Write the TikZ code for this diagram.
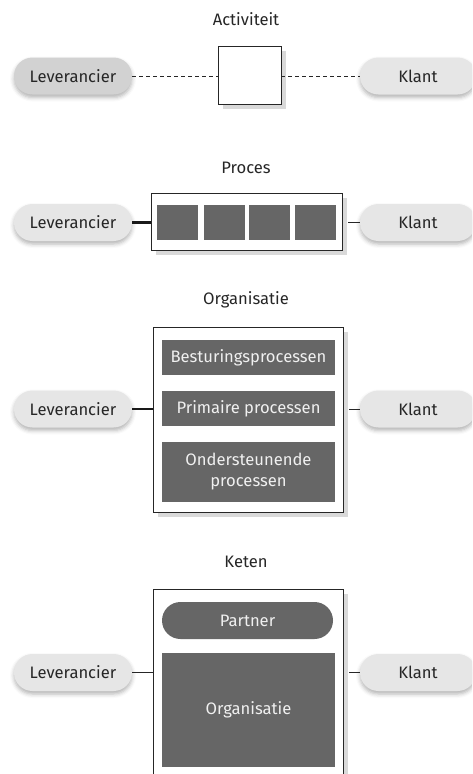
\documentclass[tikz,border=0pt]{standalone}
\usepackage{fontspec}
\setmainfont{Fira Sans}
\usepackage{tikz}
\usetikzlibrary{shadows,shadows.blur}

\definecolor{pillgrey}{HTML}{E6E6E6}
\definecolor{pilldark}{HTML}{D2D2D2}
\definecolor{blockgrey}{HTML}{666666}
\definecolor{shadowgrey}{HTML}{D9D9D9}

\tikzset{
  partij/.style={rectangle, rounded corners=18.5pt, fill=pillgrey, text=black!85,
    minimum width=118pt, minimum height=37pt, inner sep=0pt,
    blur shadow={shadow xshift=0pt, shadow yshift=-3pt, shadow blur radius=4pt, shadow opacity=30}},
  kader/.style={rectangle, draw=black!85, line width=0.8pt, fill=white, inner sep=0pt,
    drop shadow={shadow xshift=5pt, shadow yshift=-5pt, fill=shadowgrey, opacity=1}},
  blok/.style={rectangle, fill=blockgrey, text=white!94!black, inner sep=0pt, align=center},
  titel/.style={text=black!85},
  verbind/.style={draw=black!85, line width=0.9pt},
  verbinddik/.style={draw=black!90, line width=2.6pt}
}

\begin{document}
\begin{tikzpicture}[x=1pt,y=-1pt,font=\fontsize{16.6}{21}\selectfont]
\useasboundingbox (0,0) rectangle (472,774);
\begin{scope}
\clip (0,0) rectangle (472,774);

% Activiteit
\node[titel] (tact) at (246,19) {Activiteit};
\node[partij, fill=pilldark] (lev1) at (73,76) {Leverancier};
\node[partij, minimum width=116pt] (kl1) at (418,76) {Klant};
\node[kader, minimum width=63pt, minimum height=58pt] (act) at (249.5,75) {};
\draw[verbind, dashed, dash pattern=on 4pt off 3pt] (lev1.east) -- (lev1.east -| act.west);
\draw[verbind, dashed, dash pattern=on 4pt off 3pt] (act.east |- kl1.west) -- (kl1.west);

% Proces
\node[titel] (tproc) at (246,168) {Proces};
\node[partij] (lev2) at (73,222.5) {Leverancier};
\node[partij, minimum width=116pt] (kl2) at (418,222.5) {Klant};
\node[kader, minimum width=191pt, minimum height=57pt] (proc) at (246.5,221.5) {};
\foreach \x/\n in {177.5/1, 224.5/2, 269.5/3, 315.5/4}
  \node[blok, minimum width=41pt, minimum height=35pt] (stap\n) at (\x,222.5) {};
\draw[verbinddik] (lev2.east) -- (lev2.east -| proc.west);
\draw[verbind] ([xshift=6pt]proc.east |- kl2.west) -- (kl2.west);

% Organisatie
\node[titel] (torg) at (246,300) {Organisatie};
\node[partij] (lev3) at (73,409) {Leverancier};
\node[partij, minimum width=116pt] (kl3) at (418,409) {Klant};
\node[kader, minimum width=190pt, minimum height=185pt] (org) at (248,419.5) {};
\node[blok, minimum width=173pt, minimum height=35pt] (best) at (248.5,357.5) {Besturingsprocessen};
\node[blok, minimum width=173pt, minimum height=35pt] (prim) at (248.5,408.5) {Primaire processen};
\node[blok, minimum width=173pt, minimum height=60pt] (onder) at (248.5,472) {Ondersteunende\\processen};
\draw[verbinddik] (lev3.east) -- (lev3.east -| org.west);
\draw[verbind] ([xshift=6pt]org.east |- kl3.west) -- (kl3.west);

% Keten
\node[titel] (tket) at (246,562) {Keten};
\node[partij] (lev4) at (73,672.5) {Leverancier};
\node[partij, minimum width=116pt] (kl4) at (418,672.5) {Klant};
\node[kader, minimum width=190pt, minimum height=200pt] (ket) at (248,689) {};
\node[blok, rounded corners=18.5pt, minimum width=171pt, minimum height=37pt] (partner) at (247.5,620.5) {Partner};
\node[blok, minimum width=173pt, minimum height=114pt] (orgblok) at (248.5,710) {Organisatie};
\draw[verbind, line width=1.3pt] (lev4.east) -- (lev4.east -| ket.west);
\draw[verbind] ([xshift=6pt]ket.east |- kl4.west) -- (kl4.west);
\end{scope}
\end{tikzpicture}
\end{document}
